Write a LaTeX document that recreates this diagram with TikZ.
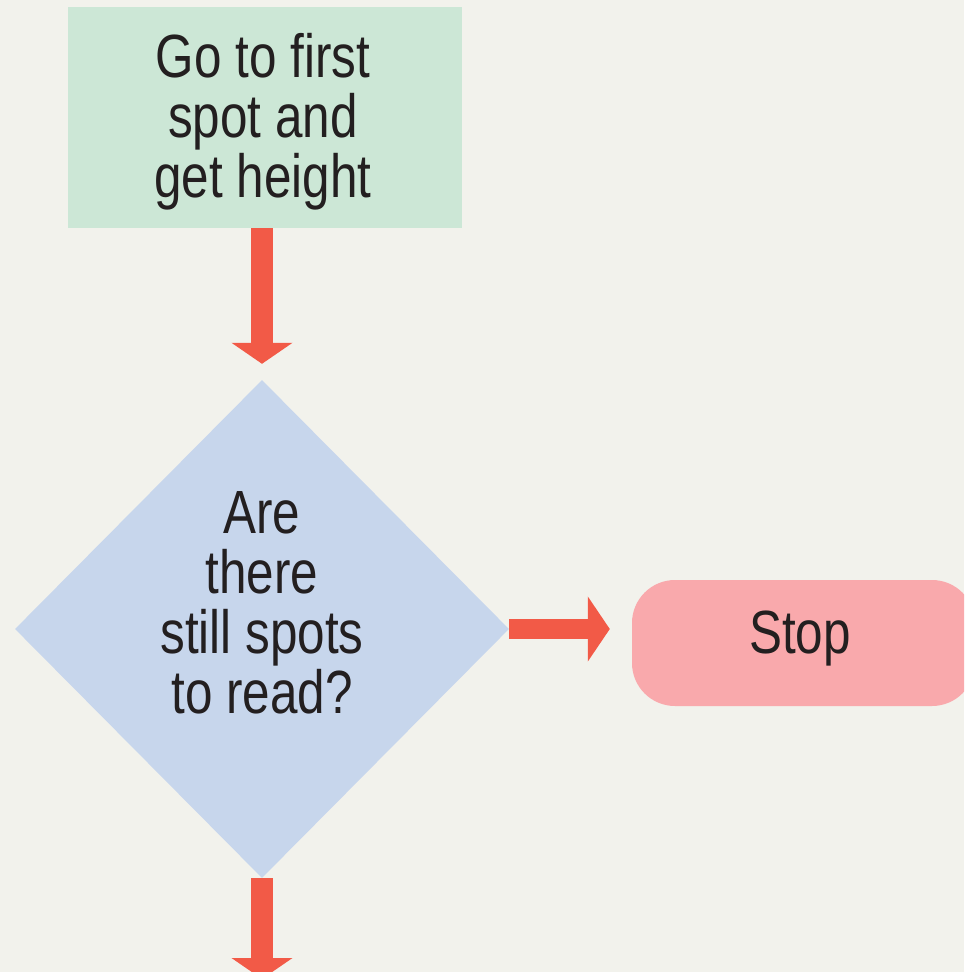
\documentclass[tikz,border=0pt]{standalone}
\usepackage{fontspec}
\setmainfont{Liberation Sans}[FakeStretch=0.81]
\usetikzlibrary{shapes.geometric,arrows.meta}
\definecolor{bg}{HTML}{F2F2EC}
\definecolor{boxgreen}{HTML}{CCE7D6}
\definecolor{boxblue}{HTML}{C7D6EC}
\definecolor{boxpink}{HTML}{F9A9AC}
\definecolor{arrowred}{HTML}{F25A47}
\definecolor{ink}{HTML}{231F20}
\begin{document}
\begin{tikzpicture}[x=1pt,y=-1pt,
  lbl/.style={font=\fontsize{61}{60}\selectfont, text=ink, align=center, inner sep=0pt},
  procbox/.style={fill=boxgreen, draw=none, minimum width=394pt, minimum height=221pt, inner sep=0pt},
  decision/.style={diamond, fill=boxblue, draw=none, minimum width=494pt, minimum height=498pt, inner sep=0pt},
  terminal/.style={fill=boxpink, draw=none, rounded corners=43pt, minimum width=343pt, minimum height=126pt, inner sep=0pt},
  flow/.style={draw=arrowred, line width=22pt, -{Triangle[width=60pt,length=21pt]}},
]
\useasboundingbox (0,0) rectangle (964,972);
\clip (0,0) rectangle (964,972);
\fill[bg] (0,0) rectangle (964,972);
\node[procbox] (g) at (265,117.5) {};
\node[decision] (d) at (262,629) {};
\node[terminal] (s) at (803.5,643) {};
\coordinate (e) at (262,979);
\node[lbl, anchor=base] (gt) at (263,197) {Go to first\\spot and\\get height};
\node[lbl, anchor=base] (dt) at (262,713) {Are\\there\\still spots\\to read?};
\node[lbl, anchor=base] (st) at (800,653) {Stop};
\draw[flow, shorten >=16pt] (g.south -| d.north) -- (d.north);
\draw[flow, line width=20pt, -{Triangle[width=64pt,length=22pt]}, shorten >=22pt] (d.east) -- (d.east -| s.west);
\draw[flow] (d.south) -- (e);
\end{tikzpicture}
\end{document}
